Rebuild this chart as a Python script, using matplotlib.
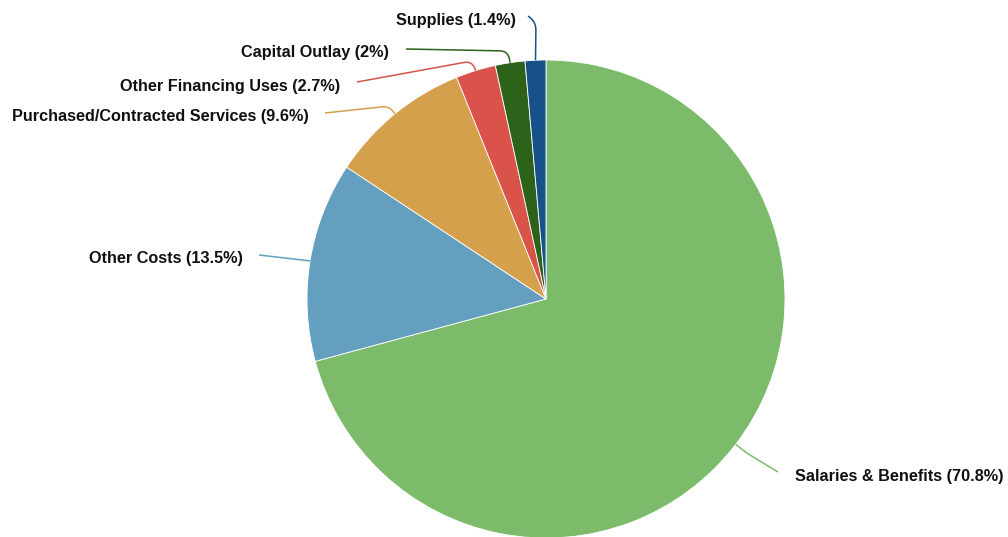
import numpy as np
import matplotlib
matplotlib.use("Agg")
import matplotlib.pyplot as plt
from matplotlib.path import Path
from matplotlib.patches import PathPatch

# ---- data ----
categories = ["Salaries & Benefits", "Other Costs", "Purchased/Contracted Services",
              "Other Financing Uses", "Capital Outlay", "Supplies"]
values = [70.8, 13.5, 9.6, 2.7, 2.0, 1.4]
value_labels = ["70.8%", "13.5%", "9.6%", "2.7%", "2%", "1.4%"]
colors = ["#7cbb6a", "#659fc0", "#d5a04b", "#d9534a", "#2d621b", "#17518a"]

# ---- layout (pixel coordinates, y down) ----
W, H = 1008, 537
CX, CY, R = 546, 299, 239
# text anchor (x, y, ha), connector label end, knee point
label_layout = [
    ((795, 477, "left"), (778, 472), (745, 452)),
    ((243, 259, "right"), (259, 255), (285, 258)),
    ((309, 117, "right"), (325, 113), (390, 106)),
    ((340, 86, "right"), (357, 82), (472, 61)),
    ((389, 53, "right"), (406, 49), (508, 51)),
    ((516, 20, "right"), (528, 16), (536, 22)),
]

fig = plt.figure(figsize=(W / 100, H / 100), dpi=100)
ax = fig.add_axes([0, 0, 1, 1])

ax.pie(values, colors=colors, startangle=90, counterclock=False,
       center=(CX, H - CY), radius=R,
       wedgeprops=dict(edgecolor="white", linewidth=0.6), frame=True)
ax.set_xlim(0, W)
ax.set_ylim(0, H)
ax.set_aspect("equal")
ax.axis("off")

total = sum(values)
cum = 0.0
for cat, v, vl, col, (txt, lab_end, knee) in zip(categories, values, value_labels,
                                                   colors, label_layout):
    mid = (cum + v / 2) / total * 2 * np.pi
    cum += v
    ex = CX + R * np.sin(mid)
    ey = CY - R * np.cos(mid)
    a = np.array(lab_end, float)
    k = np.array(knee, float)
    e = np.array([ex, ey])
    p1 = k + (a - k) * min(1.0, 8 / max(np.linalg.norm(a - k), 1))
    p2 = k + (e - k) * min(1.0, 8 / max(np.linalg.norm(e - k), 1))
    pts = [a, p1, k, p2, e]
    codes = [Path.MOVETO, Path.LINETO, Path.CURVE3, Path.CURVE3, Path.LINETO]
    verts = [(x, H - y) for x, y in pts]
    ax.add_patch(PathPatch(Path(verts, codes), facecolor="none",
                           edgecolor=col, linewidth=1.1))
    tx, ty, ha = txt
    ax.text(tx, H - ty, f"{cat} ({vl})", ha=ha, va="center",
            fontsize=11.7, fontweight="bold", family="Liberation Sans",
            color="#111111")

fig.savefig("out.png", dpi=100)
